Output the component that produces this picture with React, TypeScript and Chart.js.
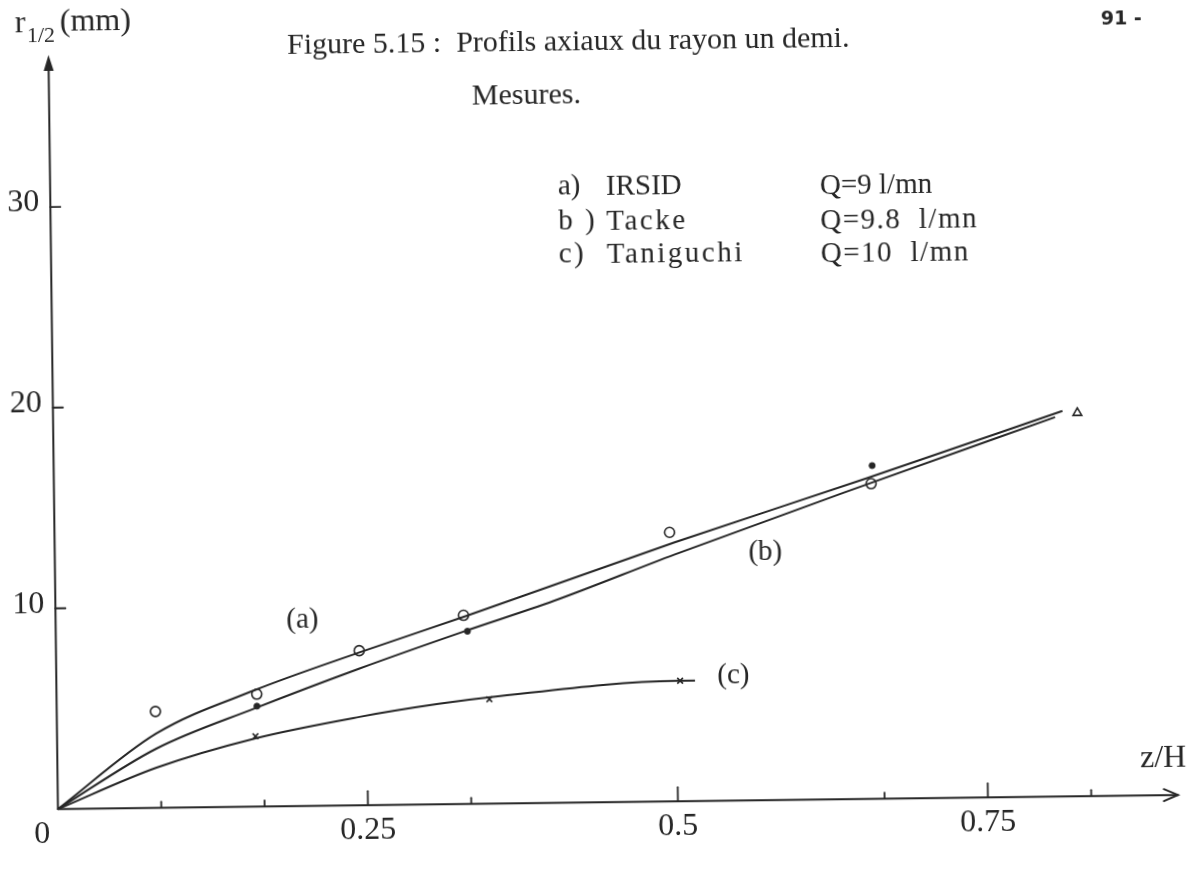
import React, { useEffect, useRef } from "react";
import { Chart, registerables } from "chart.js";

Chart.register(...registerables);

// ---- data ----
// IRSID measurements (open markers)
const irsidZ = [0.0796, 0.1615, 0.2445, 0.329, 0.496, 0.659, 0.826];
const irsidR = [4.8, 5.6, 7.7, 9.4, 13.4, 15.7, 19.1];
// Tacke measurements (filled dots)
const tackeZ = [0.1615, 0.332, 0.66];
const tackeR = [5.0, 8.6, 16.6];
// Taniguchi measurements (crosses)
const taniZ = [0.16, 0.349, 0.503];
const taniR = [3.5, 5.2, 6.0];

// hand-drawn curves
const curveAZ = [0, 0.08, 0.16, 0.244, 0.333, 0.5, 0.657, 0.814];
const curveAR = [0, 3.7, 5.8, 7.6, 9.4, 12.9, 16.0, 19.2];
const curveBZ = [0, 0.08, 0.16, 0.244, 0.327, 0.402, 0.5, 0.657, 0.808];
const curveBR = [0, 2.95, 4.9, 6.8, 8.55, 10.06, 12.3, 15.7, 18.9];
const curveCZ = [0, 0.08, 0.16, 0.244, 0.308, 0.35, 0.5, 0.515];
const curveCR = [0, 2.0, 3.4, 4.4, 5.0, 5.3, 6.0, 6.0];

// axes
const xMajorTicks = [0.25, 0.5, 0.75];
const xMajorLabels = ["0.25", "0.5", "0.75"];
const xMinorTicks = [1 / 12, 2 / 12, 4 / 12, 8 / 12, 10 / 12];
const yTicks = [10, 20, 30];
const yTickLabels = ["10", "20", "30"];

const titleLine1 = "Figure 5.15 :  Profils axiaux du rayon un demi.";
const titleLine2 = "Mesures.";
const legendKeys = ["a)", "b )", "c)"];
const legendNames = ["IRSID", "Tacke", "Taniguchi"];
const legendFlows = ["Q=9 l/mn", "Q=9.8  l/mn", "Q=10  l/mn"];
const curveLabels = ["(a)", "(b)", "(c)"];
const curveLabelZ = [0.199, 0.573, 0.546];
const curveLabelR = [9.26, 12.36, 6.2];

const INK = "#262626";
const SERIF = "'Liberation Serif', 'DejaVu Serif', serif";

const toPts = (xs: number[], ys: number[]) => xs.map((x, i) => ({ x, y: ys[i] }));

const decorPlugin = {
  id: "decor",
  afterDraw(chart: any) {
    const ctx = chart.ctx as CanvasRenderingContext2D;
    const xs = chart.scales.x;
    const ys = chart.scales.y;
    const x0 = xs.getPixelForValue(0);
    const y0 = ys.getPixelForValue(0);
    const xEnd = chart.chartArea.right;
    const yTop = chart.chartArea.top;
    ctx.save();
    ctx.strokeStyle = INK;
    ctx.fillStyle = INK;
    ctx.lineWidth = 2;
    ctx.lineCap = "round";
    // y axis
    ctx.beginPath();
    ctx.moveTo(x0, y0);
    ctx.lineTo(x0, yTop + 6);
    ctx.stroke();
    ctx.beginPath();
    ctx.moveTo(x0, yTop);
    ctx.lineTo(x0 - 5, yTop + 16);
    ctx.lineTo(x0 + 5, yTop + 16);
    ctx.closePath();
    ctx.fill();
    // x axis
    ctx.beginPath();
    ctx.moveTo(x0, y0);
    ctx.lineTo(xEnd, y0);
    ctx.stroke();
    ctx.beginPath();
    ctx.moveTo(xEnd - 14, y0 - 6);
    ctx.lineTo(xEnd, y0);
    ctx.lineTo(xEnd - 14, y0 + 6);
    ctx.stroke();
    // y ticks
    ctx.lineWidth = 1.8;
    ctx.font = `32px ${SERIF}`;
    ctx.textAlign = "right";
    ctx.textBaseline = "middle";
    yTicks.forEach((t, i) => {
      const py = ys.getPixelForValue(t);
      ctx.beginPath();
      ctx.moveTo(x0, py);
      ctx.lineTo(x0 + 10, py);
      ctx.stroke();
      ctx.fillText(yTickLabels[i], x0 - 11, py - 4);
    });
    // x ticks
    ctx.textAlign = "center";
    ctx.textBaseline = "top";
    xMajorTicks.forEach((t, i) => {
      const px = xs.getPixelForValue(t);
      ctx.beginPath();
      ctx.moveTo(px, y0);
      ctx.lineTo(px, y0 - 14);
      ctx.stroke();
      ctx.fillText(xMajorLabels[i], px, y0 + 9);
    });
    xMinorTicks.forEach((t) => {
      const px = xs.getPixelForValue(t);
      ctx.beginPath();
      ctx.moveTo(px, y0);
      ctx.lineTo(px, y0 - 6);
      ctx.stroke();
    });
    ctx.fillText("0", x0 - 16, y0 + 9);
    // axis titles
    ctx.textAlign = "left";
    ctx.textBaseline = "alphabetic";
    ctx.fillText("z/H", 1136, y0 - 28);
    ctx.font = `32px ${SERIF}`;
    ctx.fillText("r", 20, 25);
    ctx.font = `22px ${SERIF}`;
    ctx.fillText("1/2", 32, 35);
    ctx.font = `32px ${SERIF}`;
    ctx.fillText("(mm)", 65, 24);
    // title
    ctx.font = `30px ${SERIF}`;
    ctx.fillText(titleLine1, 292, 50);
    ctx.fillText(titleLine2, 476, 103);
    // legend
    const rowsY = [194, 229, 262];
    ctx.font = `29px ${SERIF}`;
    rowsY.forEach((ry, i) => {
      (ctx as any).letterSpacing = i === 0 ? "0px" : "2.5px";
      ctx.fillText(legendKeys[i], 561, ry);
      ctx.fillText(legendNames[i], 609, ry + 1);
      (ctx as any).letterSpacing = i === 0 ? "0px" : "1.5px";
      ctx.fillText(legendFlows[i], 823, ry + 3);
    });
    (ctx as any).letterSpacing = "0px";
    // curve labels
    ctx.font = `29px ${SERIF}`;
    ctx.textAlign = "center";
    ctx.textBaseline = "middle";
    curveLabels.forEach((l, i) => {
      ctx.fillText(l, xs.getPixelForValue(curveLabelZ[i]), ys.getPixelForValue(curveLabelR[i]));
    });
    // page number
    ctx.font = `bold 19px 'DejaVu Sans', sans-serif`;
    ctx.textAlign = "left";
    ctx.fillText("91 -", 1106, 26);
    ctx.restore();
  },
};

export default function App() {
  const ref = useRef<HTMLCanvasElement | null>(null);
  useEffect(() => {
    if (!ref.current) return;
    const lineDs = (xs: number[], ys: number[]) => ({
      type: "line" as const,
      data: toPts(xs, ys),
      borderColor: INK,
      borderWidth: 2,
      pointRadius: 0,
      cubicInterpolationMode: "monotone" as const,
      fill: false,
    });
    const chart = new Chart(ref.current, {
      type: "scatter",
      data: {
        datasets: [
          lineDs(curveAZ, curveAR),
          lineDs(curveBZ, curveBR),
          lineDs(curveCZ, curveCR),
          {
            type: "scatter",
            data: toPts(irsidZ, irsidR),
            pointStyle: ["circle", "circle", "circle", "circle", "circle", "circle", "triangle"],
            pointRadius: 5,
            borderColor: INK,
            backgroundColor: "#ffffff",
            borderWidth: 1.6,
          },
          {
            type: "scatter",
            data: toPts(tackeZ, tackeR),
            pointStyle: "circle",
            pointRadius: 3,
            borderColor: INK,
            backgroundColor: INK,
            borderWidth: 1,
          },
          {
            type: "scatter",
            data: toPts(taniZ, taniR),
            pointStyle: "crossRot",
            pointRadius: 4,
            borderColor: INK,
            borderWidth: 1.6,
          },
        ] as any,
      },
      options: {
        animation: false,
        responsive: false,
        layout: { padding: { left: 53.3, right: 27.7, top: 48.1, bottom: 67.8 } },
        plugins: { legend: { display: false }, tooltip: { enabled: false }, title: { display: false } },
        scales: {
          x: { type: "linear", min: 0, max: 0.9032, display: false },
          y: { type: "linear", min: 0, max: 37.57, display: false },
        },
      },
      plugins: [decorPlugin],
    });
    return () => chart.destroy();
  }, []);
  return (
    <div style={{ position: "absolute", left: 0, top: 0, width: 1201, height: 870, background: "#fff", overflow: "hidden" }}>
      <canvas
        ref={ref}
        width={1201}
        height={870}
        style={{ display: "block", transform: "rotate(-0.72deg)", transformOrigin: "600.5px 435px" }}
      />
    </div>
  );
}
